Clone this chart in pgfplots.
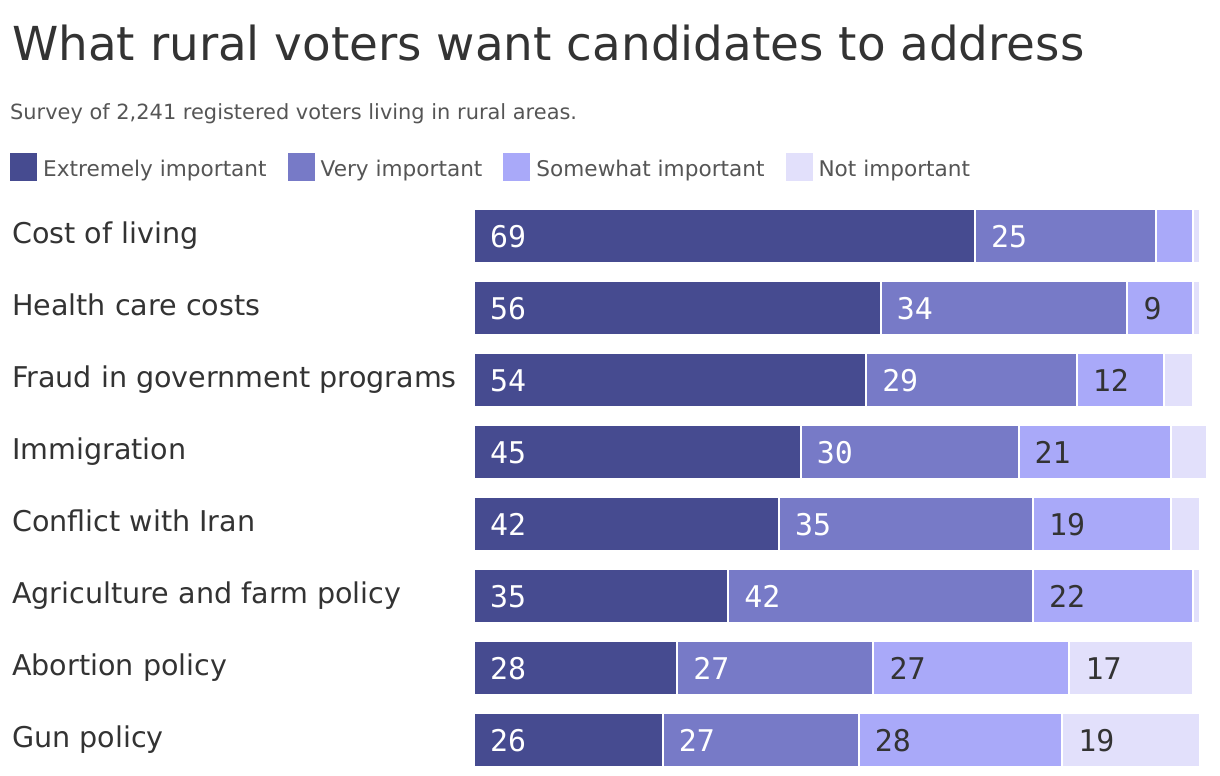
\documentclass[border=0pt]{standalone}
\usepackage{pgfplots}
\pgfplotsset{compat=1.18}
\usepackage{pgfplotstable}
\usepackage{fontspec}
\setmainfont{DejaVu Sans}
\newfontfamily\numfont{DejaVu Sans Mono}
\definecolor{c1}{HTML}{464B90}
\definecolor{c2}{HTML}{777AC7}
\definecolor{c3}{HTML}{A9A9F9}
\definecolor{c4}{HTML}{E2E0FB}
\definecolor{txt}{HTML}{333333}
\definecolor{subc}{HTML}{555555}
\pgfplotstableread{
idx ext very some not
0 69 25 5 1
1 56 34 9 1
2 54 29 12 4
3 45 30 21 5
4 42 35 19 4
5 35 42 22 1
6 28 27 27 17
7 26 27 28 19
}\data
% segment starts and shown labels
\pgfplotstableread{
idx s1 l1 s2 l2 s3 l3 s4 l4
0 0 69 69 25 94 {} 99 {}
1 0 56 56 34 90 9 99 {}
2 0 54 54 29 83 12 95 {}
3 0 45 45 30 75 21 96 {}
4 0 42 42 35 77 19 96 {}
5 0 35 35 42 77 22 99 {}
6 0 28 28 27 55 27 82 17
7 0 26 26 27 53 28 81 19
}\labels
\pgfplotsset{
  common/.style={at={(474bp,-200bp)}, anchor=north west,
    scale only axis, width=726bp, height=576bp,
    xmin=0, xmax=100, ymin=-0.5, ymax=7.5, y dir=reverse, clip=false},
  lab/.style={draw=none, mark=none, nodes near coords, point meta=explicit symbolic,
    every node near coord/.append style={anchor=base west, xshift=16bp, yshift=-11bp, inner sep=0pt,
      text=#1, font=\numfont\fontsize{30}{30}\selectfont}},
}
\begin{document}
\begin{tikzpicture}
\useasboundingbox (0,0) rectangle (1220bp,-776bp);
\node[anchor=base west, font=\fontsize{47}{47}\selectfont, text=txt, inner sep=0pt] at (12bp,-60bp) {What rural voters want candidates to address};
\node[anchor=base west, font=\fontsize{21}{21}\selectfont, text=subc, inner sep=0pt] at (10bp,-119bp) {Survey of 2,241 registered voters living in rural areas.};
\begin{axis}[
  common,
  xbar stacked, bar width=54bp,
  axis line style={draw=none}, xtick=\empty, ytick={0,...,7},
  yticklabels={Cost of living, Health care costs, Fraud in government programs, Immigration, Conflict with Iran, Agriculture and farm policy, Abortion policy, Gun policy},
  major tick length=0pt,
  yticklabel style={anchor=base west, xshift=-462bp, yshift=-7bp, inner sep=0pt, font=\fontsize{28.7}{28.7}\selectfont, text=txt},
  legend columns=4,
  legend image code/.code={\fill[#1, draw=none] (0bp,-12bp) rectangle (27bp,16bp);},
  legend style={at={(0,1)}, anchor=north west, xshift=-464bp, yshift=47bp, draw=none, fill=none, inner sep=0pt,
    font=\fontsize{21.7}{21.7}\selectfont, text=subc,
    nodes={inner sep=0pt},
    /tikz/every odd column/.append style={column sep=6bp},
    /tikz/every even column/.append style={column sep=21bp}},
]
\addplot[fill=c1, draw=white, line width=2bp] table[x=ext, y=idx] {\data};
\addlegendentry{Extremely important}
\addplot[fill=c2, draw=white, line width=2bp] table[x=very, y=idx] {\data};
\addlegendentry{Very important}
\addplot[fill=c3, draw=white, line width=2bp] table[x=some, y=idx] {\data};
\addlegendentry{Somewhat important}
\addplot[fill=c4, draw=white, line width=2bp] table[x=not, y=idx] {\data};
\addlegendentry{Not important}
\end{axis}
\begin{axis}[common, hide axis]
\addplot[lab=white] table[x=s1, y=idx, meta=l1] {\labels};
\addplot[lab=white] table[x=s2, y=idx, meta=l2] {\labels};
\addplot[lab=txt] table[x=s3, y=idx, meta=l3] {\labels};
\addplot[lab=txt] table[x=s4, y=idx, meta=l4] {\labels};
\end{axis}
\end{tikzpicture}
\end{document}
